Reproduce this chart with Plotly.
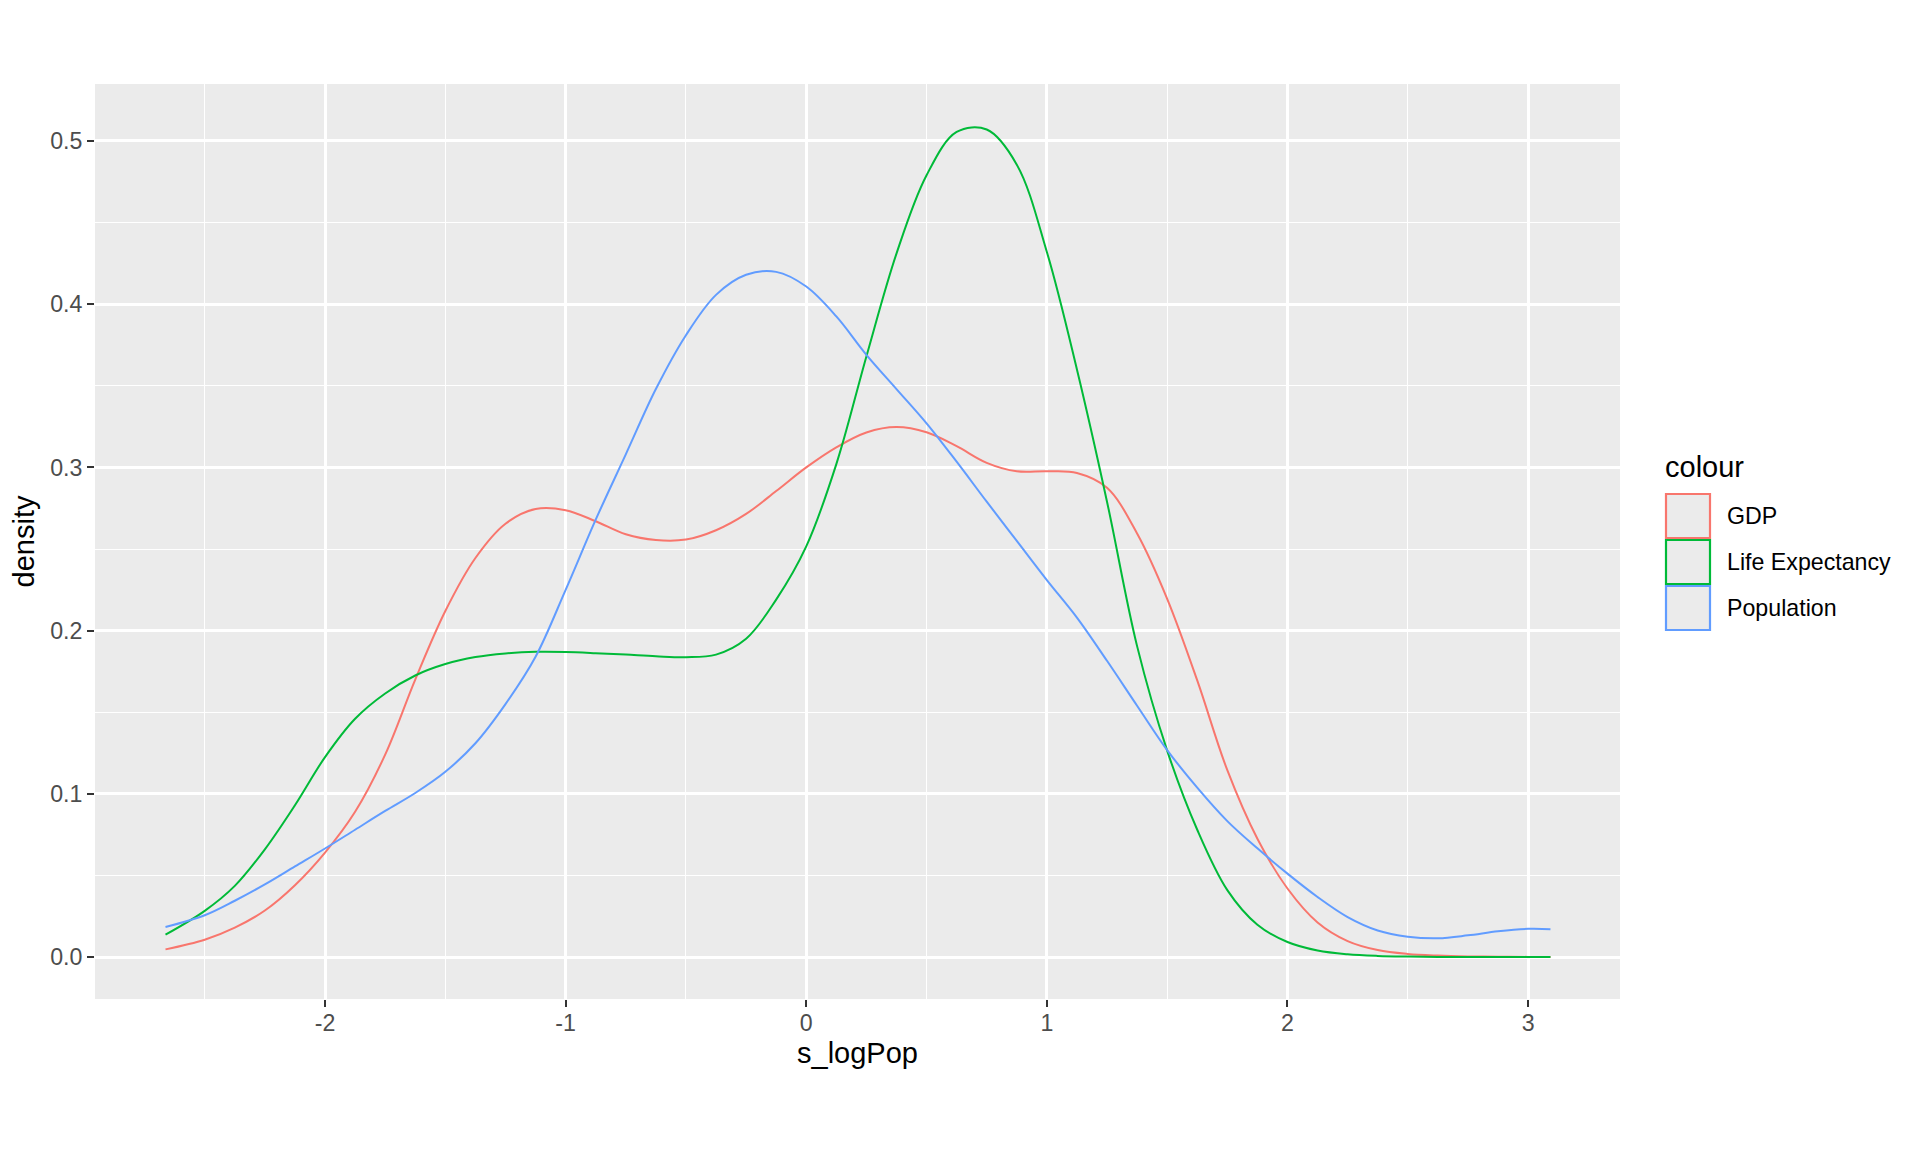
import plotly.graph_objects as go

# ---------------- data ----------------
x_grid = [-2.663, -2.5, -2.375, -2.25, -2.125, -2.0, -1.875, -1.75, -1.625, -1.5, -1.375, -1.25,
          -1.125, -1.0, -0.875, -0.75, -0.625, -0.5, -0.375, -0.25, -0.125, 0.0, 0.125, 0.25,
          0.375, 0.5, 0.625, 0.75, 0.875, 1.0, 1.125, 1.25, 1.375, 1.5, 1.625, 1.75, 1.875,
          2.0, 2.125, 2.25, 2.375, 2.5, 2.625, 2.75, 2.875, 3.0, 3.093]

gdp_density = [0.0047, 0.0106, 0.018, 0.0285, 0.044, 0.064, 0.089, 0.124, 0.17, 0.212, 0.2445, 0.2655,
               0.2745, 0.2738, 0.267, 0.259, 0.2555, 0.2558, 0.2615, 0.2715, 0.2855, 0.3, 0.3123, 0.3214,
               0.3247, 0.3215, 0.313, 0.3028, 0.2976, 0.2976, 0.2966, 0.2875, 0.2595, 0.2195, 0.1695, 0.1145, 0.0725,
               0.042, 0.0212, 0.0098, 0.0043, 0.0019, 0.0009, 0.0004, 0.0002, 0.0001, 0.0]

life_density = [0.0137, 0.0283, 0.0436, 0.066, 0.093, 0.1225, 0.146, 0.1615, 0.1725, 0.1795, 0.1838, 0.186,
                0.187, 0.1869, 0.1862, 0.1853, 0.1843, 0.1837, 0.1853, 0.195, 0.219, 0.2516, 0.302, 0.368,
                0.431, 0.479, 0.5055, 0.507, 0.4855, 0.432, 0.36, 0.279, 0.1905, 0.1265, 0.078, 0.041, 0.0198,
                0.0092, 0.004, 0.0017, 0.0007, 0.0003, 0.0001, 0.0, 0.0, 0.0, 0.0]

pop_density = [0.0184, 0.0256, 0.0345, 0.0445, 0.0555, 0.0665, 0.078, 0.0895, 0.1005, 0.1135, 0.131, 0.155,
               0.184, 0.225, 0.268, 0.308, 0.348, 0.381, 0.4057, 0.418, 0.4198, 0.4108, 0.3925, 0.369,
               0.348, 0.327, 0.3035, 0.279, 0.255, 0.231, 0.208, 0.1815, 0.154, 0.1268, 0.1038, 0.0833, 0.0666,
               0.0511, 0.0368, 0.0245, 0.0163, 0.0125, 0.0115, 0.0133, 0.0158, 0.0173, 0.0171]

series_names = ["GDP", "Life Expectancy", "Population"]
series_colors = ["#F8766D", "#00BA38", "#619CFF"]
x_tick_vals = [-2, -1, 0, 1, 2, 3]
y_tick_vals = [0.0, 0.1, 0.2, 0.3, 0.4, 0.5]

# ---------------- layout constants ----------------
# The page body has an 8px margin, so the figure is 8px smaller and offset.
OFF = 8
W, H = 1920 - OFF, 1152 - OFF
L, T = 95 - OFF, 84 - OFF
PW, PH = 1525, 915
R, B = W - L - PW, H - T - PH
FONT = "Liberation Sans, Arial, Helvetica, sans-serif"
PANEL = "#EBEBEB"
SMALL, BIG = 23.2, 29


def px_to_paper_x(px):  # px given in screen coordinates
    return (px - OFF - L) / PW


def px_to_paper_y(py):
    return (T + PH - (py - OFF)) / PH


fig = go.Figure()
for ys, name, col in zip([gdp_density, life_density, pop_density], series_names, series_colors):
    fig.add_trace(go.Scatter(x=x_grid, y=ys, mode="lines", name=name,
                             line=dict(color=col, width=2, shape="spline", smoothing=1.0),
                             showlegend=False))

axis_common = dict(
    showline=False, zeroline=False, ticks="outside", ticklen=7, tickwidth=2.2,
    tickcolor="#333333", gridcolor="white", gridwidth=2.6, automargin=False,
    tickfont=dict(family=FONT, size=SMALL, color="#4D4D4D"),
)

fig.update_xaxes(
    range=[-2.956, 3.382], tickvals=x_tick_vals, ticktext=[str(v) for v in x_tick_vals],
    minor=dict(dtick=0.5, tick0=0, showgrid=True, gridcolor="white", gridwidth=1.3, ticklen=0),
    title=dict(text="s_logPop", font=dict(family=FONT, size=BIG, color="black"), standoff=7),
    ticklabelstandoff=-4,
    **axis_common,
)
fig.update_yaxes(
    range=[-0.0257, 0.5349], tickvals=y_tick_vals, ticktext=[f"{v:.1f}" for v in y_tick_vals],
    minor=dict(dtick=0.05, tick0=0, showgrid=True, gridcolor="white", gridwidth=1.3, ticklen=0),
    title=dict(text="density", font=dict(family=FONT, size=BIG, color="black"), standoff=8),
    **axis_common,
)

# ---------------- legend (ggplot-style keys) ----------------
key_left, key_size, key_top0, key_step = 1666, 44, 494, 46
label_left = 1725
shapes, annots = [], []
annots.append(dict(x=px_to_paper_x(1663), y=px_to_paper_y(467), xref="paper", yref="paper",
                   text="colour", showarrow=False, xanchor="left", yanchor="middle",
                   font=dict(family=FONT, size=BIG, color="black")))
for i, (name, col) in enumerate(zip(series_names, series_colors)):
    top = key_top0 + i * key_step
    shapes.append(dict(type="rect", xref="paper", yref="paper",
                       x0=px_to_paper_x(key_left), x1=px_to_paper_x(key_left + key_size),
                       y0=px_to_paper_y(top + key_size), y1=px_to_paper_y(top),
                       fillcolor=PANEL, line=dict(color=col, width=2.2)))
    annots.append(dict(x=px_to_paper_x(label_left), y=px_to_paper_y(top + key_size / 2),
                       xref="paper", yref="paper", text=name, showarrow=False,
                       xanchor="left", yanchor="middle",
                       font=dict(family=FONT, size=SMALL, color="black")))

fig.update_layout(
    width=W, height=H, margin=dict(l=L, r=R, t=T, b=B, pad=0),
    paper_bgcolor="white", plot_bgcolor=PANEL,
    font=dict(family=FONT), showlegend=False,
    shapes=shapes, annotations=annots,
)

fig.write_html("out.html")
